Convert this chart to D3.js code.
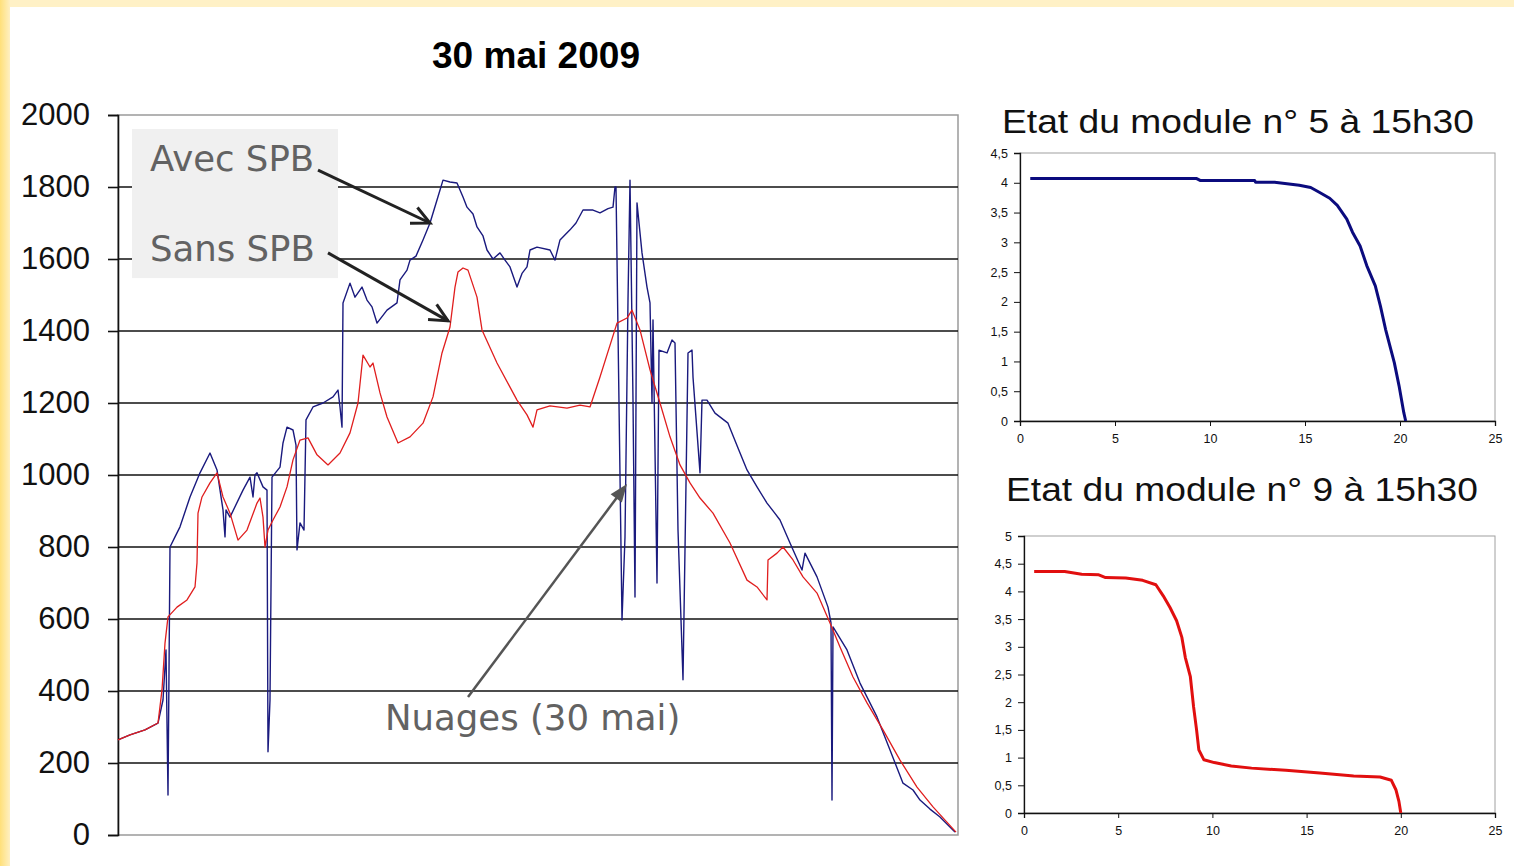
<!DOCTYPE html>
<html><head><meta charset="utf-8">
<script src="https://cdn.jsdelivr.net/npm/d3@7"></script>
<style>body{margin:0;background:#fff}svg{display:block}</style>
</head><body>
<svg id="c" width="1514" height="866"></svg>
<script>
// ---- Main chart data (sample index along the day, power) ----
const mainTitle = "30 mai 2009";
const mainYTicks = [0,200,400,600,800,1000,1200,1400,1600,1800,2000];
const sansTime = [0,12,27,40,44,47,50,59,69,77,79,80,84,92,99,105,112,120,129,139,142,145,147,150,155,162,169,175,182,190,199,210,222,232,240,245,252,255,262,269,280,292,305,315,324,332,337,340,345,350,359,364,379,392,399,409,415,419,432,449,462,472,482,499,509,514,522,532,542,552,562,572,582,595,612,629,639,649,650,659,665,675,685,699,712,722,735,749,765,782,799,815,838];
const sansValue = [264,278,292,311,403,533,606,633,653,689,756,894,939,978,1006,939,894,819,847,922,936,883,800,847,875,911,967,1042,1097,1103,1056,1028,1061,1117,1200,1333,1300,1311,1228,1161,1089,1106,1144,1217,1339,1411,1522,1564,1575,1569,1494,1403,1311,1244,1208,1167,1133,1181,1192,1186,1194,1189,1272,1422,1436,1458,1403,1292,1200,1106,1028,978,936,894,811,708,689,653,764,783,800,764,717,672,589,522,439,367,292,208,133,78,8];
const avecTime = [0,12,27,40,45,48,50,52,57,62,72,82,92,99,105,107,108,112,125,132,135,137,139,145,149,150,152,154,162,165,169,175,178,179,182,186,188,195,205,215,220,222,224,225,232,237,244,249,254,259,269,279,282,289,292,298,305,312,319,325,332,339,345,349,355,359,365,369,375,382,387,392,399,404,409,412,419,432,437,442,452,458,465,475,482,490,495,497,498,504,507,510,512,515,517,519,524,529,532,534,535,539,541,549,554,557,560,565,570,574,575,582,584,589,597,610,620,629,639,649,656,662,672,684,687,699,710,713,714,715,729,742,759,772,785,795,802,812,822,837];
const avecValue = [264,278,292,311,375,514,111,800,828,856,939,1006,1061,1014,903,828,903,883,958,994,939,1000,1006,967,958,231,375,994,1022,1089,1133,1125,1083,792,867,847,1153,1189,1200,1217,1236,1189,1133,1478,1533,1494,1522,1486,1467,1422,1458,1478,1542,1569,1597,1608,1653,1700,1764,1819,1814,1811,1772,1744,1725,1689,1664,1625,1600,1617,1597,1578,1522,1560,1578,1625,1633,1625,1597,1653,1681,1700,1736,1736,1728,1740,1744,1800,1800,597,828,1486,1819,1208,661,1756,1617,1522,1478,1200,1431,700,1347,1339,1375,1367,847,431,1339,1347,1272,1006,1208,1208,1172,1144,1075,1014,967,922,897,875,811,736,783,717,633,589,97,578,514,422,328,236,144,125,97,72,50,8];
const labelAvec = "Avec SPB", labelSans = "Sans SPB", labelNuages = "Nuages (30 mai)";

// ---- Module 5 I-V curve ----
const m5Title = "Etat du module n° 5 à 15h30";
const m5V = [0.54,9.3,9.48,12.35,12.4,13.4,14.7,15.3,15.75,16.3,16.7,17.2,17.5,17.9,18.25,18.7,18.97,19.24,19.7,19.95,20.2,20.3];
const m5I = [4.07,4.07,4.04,4.04,4.01,4.01,3.96,3.92,3.84,3.74,3.62,3.39,3.17,2.94,2.61,2.27,1.93,1.54,0.98,0.59,0.14,0];
const m5YTicks = [0,0.5,1,1.5,2,2.5,3,3.5,4,4.5];
// ---- Module 9 I-V curve ----
const m9Title = "Etat du module n° 9 à 15h30";
const m9V = [0.54,2.16,3.06,3.97,4.33,5.4,6.3,7.0,7.39,7.75,8.1,8.38,8.56,8.83,9.0,9.16,9.28,9.55,10.1,11.0,12.08,13.9,15.7,17.5,18.9,19.5,19.74,19.9,20.0];
const m9I = [4.36,4.36,4.31,4.30,4.25,4.24,4.2,4.12,3.92,3.71,3.47,3.17,2.81,2.46,1.92,1.50,1.14,0.96,0.91,0.85,0.81,0.77,0.72,0.67,0.65,0.59,0.42,0.21,0];
const m9YTicks = [0,0.5,1,1.5,2,2.5,3,3.5,4,4.5,5];
const ivXTicks = [0,5,10,15,20,25];

const svg = d3.select("#c");
// background border
const defs = svg.append("defs");
const g1 = defs.append("linearGradient").attr("id","lg").attr("x1","0").attr("x2","1");
g1.append("stop").attr("offset","0").attr("stop-color","#ffe07a");
g1.append("stop").attr("offset","1").attr("stop-color","#fff0c2");
svg.append("rect").attr("x",0).attr("y",0).attr("width",1514).attr("height",7).attr("fill","#fff1c6");
svg.append("rect").attr("x",0).attr("y",0).attr("width",10).attr("height",866).attr("fill","url(#lg)");

// ---- Main chart ----
const x = d3.scaleLinear().domain([0,840]).range([118,958]);
const y = d3.scaleLinear().domain([0,2000]).range([835,115]);
const fmtComma = d => String(d).replace(".",",");

svg.append("text").attr("x",536).attr("y",68).attr("text-anchor","middle")
  .attr("font-family","Liberation Sans, Arial, sans-serif").attr("font-weight","bold")
  .attr("font-size",36).attr("textLength",208).attr("lengthAdjust","spacingAndGlyphs").text(mainTitle);

// frame
svg.append("rect").attr("x",x(0)).attr("y",y(2000)).attr("width",x(840)-x(0)).attr("height",y(0)-y(2000))
  .attr("fill","none").attr("stroke","#9a9a9a").attr("stroke-width",1.5);
// grid
svg.append("g").selectAll("line").data(mainYTicks.filter(d=>d>0&&d<2000)).join("line")
  .attr("x1",x(0)).attr("x2",x(840)).attr("y1",d=>y(d)).attr("y2",d=>y(d))
  .attr("stroke","#111").attr("stroke-width",1.6);

// annotation box (behind lines)
svg.append("rect").attr("x",x(14)).attr("y",y(1961)).attr("width",x(220)-x(14)).attr("height",y(1547)-y(1961))
  .attr("fill","#f0f0f0");

const yAx = svg.append("g").attr("transform",`translate(${x(0)},0)`)
  .call(d3.axisLeft(y).tickValues(mainYTicks).tickSize(10).tickPadding(18).tickFormat(d=>d));
yAx.select(".domain").attr("stroke","#111").attr("stroke-width",1.6);
yAx.selectAll(".tick line").attr("stroke","#111").attr("stroke-width",1.6);
yAx.selectAll("text").attr("font-family","Liberation Sans, Arial, sans-serif").attr("font-size",31).attr("fill","#111");

const line = d3.line().x(d=>x(d[0])).y(d=>y(d[1]));
svg.append("path").datum(d3.zip(avecTime,avecValue)).attr("d",line)
  .attr("fill","none").attr("stroke","#1a1a7e").attr("stroke-width",1.4).attr("stroke-linejoin","round");
svg.append("path").datum(d3.zip(sansTime,sansValue)).attr("d",line)
  .attr("fill","none").attr("stroke","#e01e1e").attr("stroke-width",1.3).attr("stroke-linejoin","round");

// annotation labels
const annFont = "DejaVu Sans, Verdana, sans-serif";
svg.append("text").attr("x",x(32)).attr("y",y(1847)+1).attr("font-family",annFont).attr("font-size",35.5).attr("fill","#626262").text(labelAvec);
svg.append("text").attr("x",x(32)).attr("y",y(1594)).attr("font-family",annFont).attr("font-size",35.5).attr("fill","#626262").text(labelSans);
svg.append("text").attr("x",x(267)).attr("y",y(292)).attr("font-family",annFont).attr("font-size",35.5).attr("fill","#626262").text(labelNuages);

function openArrow(x0,y0,x1,y1,col,w){
  const a = Math.atan2(y1-y0,x1-x0), L=20, sp=0.45;
  svg.append("line").attr("x1",x0).attr("y1",y0).attr("x2",x1).attr("y2",y1).attr("stroke",col).attr("stroke-width",w);
  svg.append("path").attr("d",`M${x1-L*Math.cos(a-sp)},${y1-L*Math.sin(a-sp)}L${x1},${y1}L${x1-L*Math.cos(a+sp)},${y1-L*Math.sin(a+sp)}`)
    .attr("fill","none").attr("stroke",col).attr("stroke-width",w).attr("stroke-linejoin","miter");
}
openArrow(x(200),y(1847),x(312),y(1700),"#222",3);
openArrow(x(210),y(1617),x(330),y(1428),"#222",3);
// Nuages arrow, filled head
(function(){
  const x0=x(350),y0=y(383),x1=x(509),y1=y(975);
  const a=Math.atan2(y1-y0,x1-x0), L=18, hw=7;
  svg.append("line").attr("x1",x0).attr("y1",y0).attr("x2",x1-L*Math.cos(a)*0.8).attr("y2",y1-L*Math.sin(a)*0.8)
    .attr("stroke","#555").attr("stroke-width",2.5);
  const bx=x1-L*Math.cos(a), by=y1-L*Math.sin(a);
  svg.append("path").attr("d",`M${x1},${y1}L${bx+hw*Math.sin(a)},${by-hw*Math.cos(a)}L${bx-hw*Math.sin(a)},${by+hw*Math.cos(a)}Z`).attr("fill","#555");
})();

// ---- IV charts ----
function ivChart(cfg){
  const xs = d3.scaleLinear().domain([0,25]).range([cfg.x0,cfg.x1]);
  const ys = d3.scaleLinear().domain([0,cfg.ymax]).range([cfg.yb,cfg.yt]);
  svg.append("text").attr("x",cfg.tx).attr("y",cfg.ty).attr("text-anchor","middle")
    .attr("font-family","Liberation Sans, Arial, sans-serif").attr("font-size",34)
    .attr("textLength",472).attr("lengthAdjust","spacingAndGlyphs").attr("fill","#111").text(cfg.title);
  svg.append("rect").attr("x",xs(0)).attr("y",ys(cfg.ymax)).attr("width",xs(25)-xs(0)).attr("height",ys(0)-ys(cfg.ymax))
    .attr("fill","none").attr("stroke","#a0a0a0").attr("stroke-width",1);
  const ya = svg.append("g").attr("transform",`translate(${xs(0)},0)`)
    .call(d3.axisLeft(ys).tickValues(cfg.yticks).tickSize(6).tickPadding(6).tickFormat(fmtComma));
  const xa = svg.append("g").attr("transform",`translate(0,${ys(0)})`)
    .call(d3.axisBottom(xs).tickValues(ivXTicks).tickSize(5).tickPadding(8).tickFormat(d=>d));
  [ya,xa].forEach(a=>{
    a.select(".domain").attr("stroke","#111").attr("stroke-width",1.3);
    a.selectAll(".tick line").attr("stroke","#111");
    a.selectAll("text").attr("font-family","Liberation Sans, Arial, sans-serif").attr("font-size",12.5).attr("fill","#111");
  });
  svg.append("path").datum(d3.zip(cfg.vx,cfg.iy)).attr("d",d3.line().x(d=>xs(d[0])).y(d=>ys(d[1])))
    .attr("fill","none").attr("stroke",cfg.col).attr("stroke-width",3).attr("stroke-linejoin","round");
}
ivChart({title:m5Title,tx:1238,ty:133,x0:1020,x1:1495,yt:153,yb:421,ymax:4.5,yticks:m5YTicks,vx:m5V,iy:m5I,col:"#0b0b7e"});
ivChart({title:m9Title,tx:1242,ty:501,x0:1024,x1:1495,yt:536,yb:813,ymax:5,yticks:m9YTicks,vx:m9V,iy:m9I,col:"#e10f0f"});
</script>
</body></html>
